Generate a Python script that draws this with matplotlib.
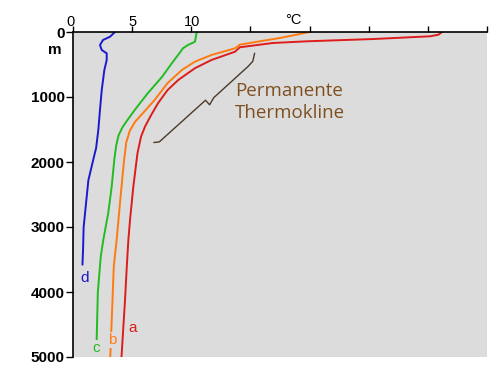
import matplotlib
matplotlib.use("Agg")
import matplotlib.pyplot as plt

# temperature (degC) vs depth (m) profiles
temp_a = [31.2, 30.9, 30.2, 25.4, 19.8, 16.9, 14.1, 13.7, 11.7, 10.3, 8.9, 8.0, 7.2, 6.6, 6.1, 5.75,
          5.45, 5.10, 4.82, 4.68, 4.55, 4.4, 4.1]
depth_a = [0, 41, 66, 108, 143, 169, 235, 303, 431, 558, 738, 892, 1092, 1280, 1450, 1610,
           1867, 2380, 2892, 3200, 3600, 4120, 5000]

temp_b = [20.0, 17.5, 15.8, 14.1, 13.7, 11.7, 10.3, 9.2, 8.0, 6.9, 5.9, 5.25, 4.8, 4.5, 4.3, 3.97,
          3.69, 3.45, 3.25, 3.15]
depth_b = [0, 92, 143, 195, 251, 354, 457, 585, 785, 1046, 1250, 1380, 1520, 1700, 2000, 2636,
           3200, 3600, 4540, 5000]

temp_c = [10.46, 10.31, 9.72, 9.30, 8.88, 8.37, 7.52, 6.34, 5.3, 4.7, 4.2, 3.85, 3.65, 3.5, 3.27,
          2.98, 2.56, 2.35, 2.1, 2.0]
depth_c = [0, 150, 200, 250, 354, 477, 692, 938, 1180, 1330, 1460, 1590, 1750, 1950, 2380,
           2785, 3200, 3450, 4000, 4740]

temp_d = [3.55, 3.13, 2.54, 2.28, 2.43, 2.85, 2.85, 2.65, 2.43, 2.28, 2.14, 1.95, 1.85, 1.3,
          0.9, 0.85, 0.8]
depth_d = [0, 72, 123, 200, 277, 328, 431, 585, 892, 1200, 1508, 1790, 1860, 2280, 3000,
           3350, 3580]

labels = ["a", "b", "c", "d"]
label_pos = [(5.0, 4550), (3.3, 4740), (1.95, 4860), (1.0, 3785)]
colors = ["#DD1C1C", "#FF7A10", "#22BB22", "#1A1ACC"]

# curly brace marking the thermocline
brace_t = [15.35, 15.2, 14.8, 11.9, 11.55, 11.2, 7.3, 6.85]
brace_d = [330, 450, 530, 1010, 1120, 1050, 1690, 1700]

xticks = [0, 5, 10, 15, 20, 25, 30, 35]
yticks = [0, 1000, 2000, 3000, 4000, 5000]

fig = plt.figure(figsize=(5.02, 3.80), dpi=100)
ax = fig.add_axes([73 / 502, 1 - 357 / 380, 414 / 502, 325 / 380])
ax.set_facecolor("#DCDCDC")

for t, d, c in zip([temp_a, temp_b, temp_c, temp_d],
                   [depth_a, depth_b, depth_c, depth_d], colors):
    ax.plot(t, d, color=c, lw=1.4, solid_joinstyle="round", solid_capstyle="round")

for lab, (x, y), c in zip(labels, label_pos, colors):
    ax.text(x, y, lab, color=c, fontsize=11, ha="center", va="center",
            family="Liberation Sans",
            bbox=dict(facecolor="#DCDCDC", edgecolor="none", pad=0.5))

ax.plot(brace_t, brace_d, color="#4A3A2A", lw=1.0)
ax.text(13.7, 1080, "Permanente\nThermokline", color="#7F4F1F", fontsize=13.5,
        family="Open Sans", ha="left", va="center", linespacing=1.25)

ax.set_xlim(0, 35)
ax.set_ylim(5000, 0)
ax.xaxis.tick_top()
ax.set_xticks(xticks)
ax.set_xticklabels([])
ax.set_yticks(yticks)
ax.set_yticklabels([str(v) for v in yticks], fontsize=11, fontweight="bold",
                   family="Liberation Sans")
ax.tick_params(axis="x", direction="out", length=4, width=1)
ax.tick_params(axis="y", direction="out", length=5, width=1, pad=1)

for v in [0, 5, 10]:
    ax.text(v + (0.05 if v else -0.25), -50, str(v), fontsize=10.5,
            family="Liberation Sans", ha="center", va="bottom")
ax.text(18.6, -70, "°C", fontsize=10.5, family="Liberation Sans",
        ha="center", va="bottom")
ax.text(-1.5, 280, "m", fontsize=11, fontweight="bold",
        family="Liberation Sans", ha="center", va="center")

ax.spines["right"].set_visible(False)
ax.spines["bottom"].set_visible(False)
ax.spines["left"].set_linewidth(1.2)
ax.spines["top"].set_linewidth(1.2)

fig.savefig("out.png", dpi=100)
